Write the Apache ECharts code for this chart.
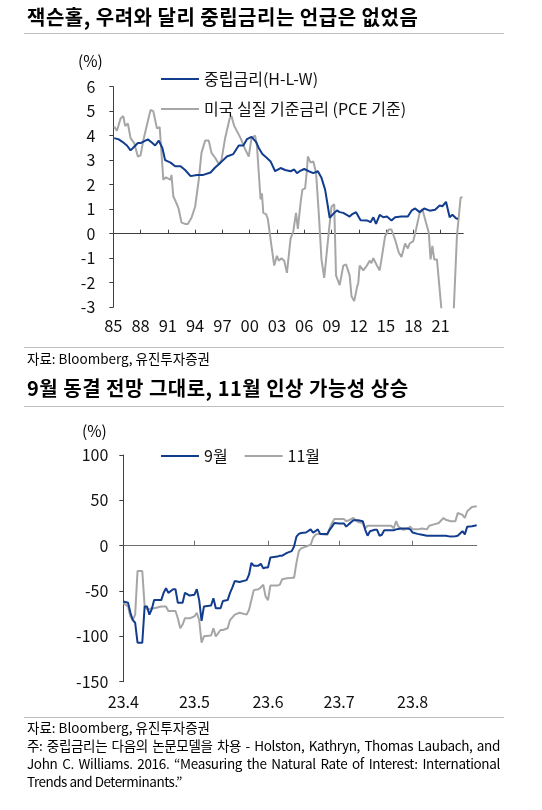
<!DOCTYPE html>
<html>
<head>
<meta charset="utf-8">
<script src="https://cdn.jsdelivr.net/npm/echarts@6/dist/echarts.min.js"></script>
<style>
  html, body { margin:0; padding:0; background:#fff; }
  body { width:542px; height:810px; position:relative; overflow:hidden; font-family:'Noto Sans CJK KR','Noto Sans',sans-serif; color:#000; }
  #c { position:absolute; left:0; top:0; width:542px; height:810px; }
  .t { position:absolute; white-space:nowrap; }
  .title { font-size:20px; font-weight:bold; line-height:24px; left:27px; letter-spacing:0.5px; }
  .rule { position:absolute; left:24px; width:480px; height:1px; background:#bfbfbf; }
  .src { font-size:13.5px; line-height:18px; left:27px; }
  .just { width:473px; text-align:justify; text-align-last:justify; letter-spacing:-0.35px; }
  .unit { font-size:15.5px; line-height:18px; }
</style>
</head>
<body>
<div id="c"></div>
<div class="t title" style="top:4.7px">잭슨홀, 우려와 달리 중립금리는 언급은 없었음</div>
<div class="rule" style="top:33px"></div>
<div class="t unit" style="left:78px;top:51px">(%)</div>
<div class="rule" style="top:346.5px"></div>
<div class="t src" style="top:348.5px">자료: Bloomberg, 유진투자증권</div>
<div class="t title" style="top:375.5px">9월 동결 전망 그대로, 11월 인상 가능성 상승</div>
<div class="rule" style="top:405.5px"></div>
<div class="t unit" style="left:82px;top:421px">(%)</div>
<div class="rule" style="top:716.5px"></div>
<div class="t src" style="top:718px">자료: Bloomberg, 유진투자증권</div>
<div class="t src just" style="top:736px">주: 중립금리는 다음의 논문모델을 차용 - Holston, Kathryn, Thomas Laubach, and</div>
<div class="t src just" style="top:754px">John C. Williams. 2016. “Measuring the Natural Rate of Interest: International</div>
<div class="t src" style="top:772px;letter-spacing:-0.5px">Trends and Determinants.”</div>
<script>
// ---- Chart 1: neutral rate (HLW) vs US real policy rate ----
const hlwName = '중립금리(H-L-W)';
const realName = '미국 실질 기준금리 (PCE 기준)';
const hlwX = [1985.1,1985.6,1986.0,1986.5,1986.9,1987.3,1987.7,1988.0,1988.8,1989.3,1989.6,1990.0,1990.4,1990.7,1991.3,1991.8,1992.4,1992.9,1993.5,1994.2,1994.9,1995.7,1996.2,1996.8,1997.5,1998.2,1998.8,1999.3,1999.7,2000.2,2000.7,2001.0,2001.4,2001.9,2002.3,2002.8,2003.4,2003.9,2004.5,2004.9,2005.2,2005.5,2006.0,2006.5,2007.0,2007.5,2007.9,2008.3,2008.6,2008.8,2009.3,2009.6,2009.9,2010.3,2011.0,2011.3,2011.7,2012.2,2012.9,2013.3,2013.6,2013.9,2014.3,2014.7,2015.1,2015.6,2016.0,2016.7,2017.4,2017.8,2018.2,2018.7,2019.2,2019.8,2020.4,2020.9,2021.2,2021.6,2022.0,2022.3,2022.7,2022.9];
const hlwY = [3.9,3.85,3.75,3.6,3.4,3.55,3.7,3.7,3.85,3.7,3.6,3.8,3.5,3.0,2.9,2.75,2.75,2.6,2.35,2.4,2.4,2.5,2.7,2.9,3.15,3.25,3.6,3.6,3.86,3.95,3.75,3.5,3.25,3.09,2.95,2.55,2.68,2.6,2.55,2.62,2.47,2.55,2.64,2.55,2.47,2.55,2.28,1.8,1.12,0.65,0.85,0.95,0.88,0.85,0.7,0.8,0.88,0.55,0.54,0.47,0.67,0.4,0.77,0.67,0.7,0.54,0.67,0.7,0.7,0.94,1.03,0.88,1.03,0.94,0.98,1.15,1.12,1.3,0.67,0.77,0.63,0.6];
const realX = [1985.1,1985.4,1985.8,1986.1,1986.3,1986.6,1986.9,1987.3,1987.7,1988.0,1988.3,1988.8,1989.1,1989.4,1989.8,1990.1,1990.3,1990.5,1990.8,1991.3,1991.4,1991.6,1992.0,1992.2,1992.5,1992.9,1993.2,1993.6,1994.0,1994.4,1994.7,1995.1,1995.5,1995.8,1996.2,1996.6,1996.9,1997.3,1997.8,1998.0,1998.3,1999.0,1999.5,1999.9,2000.2,2000.6,2000.8,2001.0,2001.2,2001.35,2001.5,2001.8,2002.0,2002.4,2002.7,2003.0,2003.2,2003.5,2003.8,2004.1,2004.5,2004.8,2005.1,2005.3,2005.6,2005.8,2006.1,2006.3,2006.4,2006.7,2007.0,2007.3,2007.6,2007.9,2008.2,2008.4,2008.7,2009.0,2009.3,2009.5,2009.9,2010.3,2010.6,2011.0,2011.2,2011.5,2011.8,2011.95,2012.1,2012.5,2012.9,2013.2,2013.4,2013.6,2014.0,2014.3,2014.5,2014.9,2015.3,2015.6,2016.0,2016.4,2016.7,2017.1,2017.4,2017.6,2018.0,2018.3,2018.7,2019.0,2019.4,2019.7,2019.9,2020.1,2020.3,2020.6,2021.1,2021.5,2022.0,2022.2,2022.45,2022.8,2023.2,2023.4];
const realY = [4.37,4.2,4.7,4.8,4.4,4.5,3.9,3.7,3.15,3.2,3.8,4.6,5.05,5.0,4.3,4.35,3.3,2.2,2.3,2.2,2.4,1.53,1.2,1.0,0.45,0.4,0.4,0.65,1.1,2.2,3.3,3.8,3.8,3.3,3.1,2.85,3.0,3.9,4.7,4.8,4.4,3.9,3.45,3.15,3.9,4.0,3.6,2.5,1.4,1.65,0.85,0.8,0.6,-0.5,-1.3,-0.9,-1.1,-1.0,-1.1,-1.6,-0.2,0.1,0.85,0.2,1.26,1.8,1.85,2.6,3.15,2.9,2.95,2.5,0.85,-1.05,-1.8,-1.75,0.05,1.1,1.2,-1.7,-2.1,-1.3,-1.25,-1.7,-2.55,-2.75,-2.2,-2.0,-1.3,-1.5,-1.3,-1.1,-1.2,-1.0,-1.3,-1.5,-1.05,-0.1,0.17,0.17,-0.25,-0.77,-0.95,-0.4,-0.6,-0.4,-0.3,0.17,0.85,1.0,0.45,0.05,-1.05,-0.5,-1.05,-1.05,-3.1,-4.5,-6.0,-6.5,-3.1,-0.1,1.46,1.5];
const topTicks = [1985,1988,1991,1994,1997,2000,2003,2006,2009,2012,2015,2018,2021];
const topTickLabels = ['85','88','91','94','97','00','03','06','09','12','15','18','21'];

// ---- Chart 2: rate hike probability for Sep / Nov FOMC ----
const sepName = '9월';
const novName = '11월';
const probDates = ['04-01','04-03','04-04','04-05','04-06','04-07','04-09','04-10','04-11','04-12','04-13','04-14','04-17','04-18','04-19','04-20','04-22','04-23','04-24','04-25','04-26','04-27','04-29','05-01','05-02','05-03','05-04','05-05','05-08','05-09','05-10','05-12','05-13','05-15','05-16','05-17','05-18','05-20','05-23','05-24','05-25','05-26','05-28','05-29','05-30','05-31','06-01','06-02','06-05','06-06','06-07','06-09','06-11','06-12','06-13','06-14','06-15','06-17','06-19','06-20','06-21','06-22','06-23','06-26','06-27','06-28','06-29','07-01','07-03','07-04','07-05','07-07','07-09','07-11','07-12','07-13','07-14','07-16','07-17','07-18','07-19','07-20','07-23','07-24','07-25','07-26','07-27','07-28','07-30','07-31','08-01','08-03','08-05','08-07','08-08','08-10','08-12','08-14','08-15','08-17','08-19','08-20','08-22','08-23','08-24','08-26','08-28'];
const sepProb = [-61.5,-63,-74,-82,-85,-107,-107,-67,-67,-76,-70,-60,-60,-52,-47,-52,-48,-48,-63,-63,-63,-52,-55,-54,-48,-60,-83,-67,-66,-58,-69,-69,-61,-60,-52,-46,-39,-40,-38,-32,-19,-22,-22,-20,-25,-24,-24,-13,-12,-11,-11,-8,-6,-1,10,13,14,14.5,18,14.5,16,18,13,13,17.5,21,25,24.5,24.5,21,23.5,28,28,27,17.5,11,16,17.5,17.5,11,12,17,17,17,18,18.5,19,19,19,18,14.5,13,12,11,11,11,11,11,11,10,10.5,11,16,12.5,21,21.5,22.5];
const novProb = [-63.5,-67,-78,-82,-76,-28,-28,-67,-70,-70,-69,-69,-67,-67,-67,-72,-72,-72,-80,-91,-87,-80,-80,-78,-74,-82,-107,-100,-99,-91,-100,-93,-93,-91,-82,-79,-76,-74,-76,-71,-60,-49,-48,-46,-43,-56,-60,-44,-44,-43,-37,-36,-35.5,-35.5,-19,-6,-3,-1,1,8.5,12,13,13,12,19,25,29.5,29.5,29.5,27,28,30.5,26,25,19,22,22,22,22,22,22,22,22,19,27,21,19,17.5,19,21,18,18,19,18,22,23.5,25,30.5,28.5,27,27,36,34,30.5,38,42.7,43.5];
const monthTickDates = ['2023-04-01','2023-05-01','2023-06-01','2023-07-01','2023-08-01'];
const monthTickLabels = ['23.4','23.5','23.6','23.7','23.8'];

function toTs(s) { const p = s.split('-').map(Number); return Date.UTC(p[0], p[1]-1, p[2]); }
const monthTs = monthTickDates.map(toTs);
const FONT = "'Noto Sans CJK KR','Noto Sans',sans-serif";
const BLUE = '#123c8e', GRAY = '#a6a6a6', AXIS = '#404040';

const legendText = { fontSize: 16, color: '#111', fontFamily: FONT };
const chart = echarts.init(document.getElementById('c'), null, { renderer: 'canvas' });
chart.setOption({
  animation: false,
  textStyle: { fontFamily: FONT, color: '#111' },
  grid: [
    { left: 113.3, top: 86.7, width: 350, height: 220.5 },
    { left: 123.3, top: 455, width: 353.4, height: 226.7 }
  ],
  legend: [
    { data: [hlwName, realName], orient: 'vertical', left: 156, top: 66, icon: 'rect', itemWidth: 38, itemHeight: 2.2, itemGap: 14,
      textStyle: legendText },
    { data: [sepName, novName], orient: 'horizontal', left: 156, top: 443, icon: 'rect', itemWidth: 38, itemHeight: 2.2, itemGap: 17,
      textStyle: legendText }
  ],
  xAxis: [
    { gridIndex: 0, type: 'value', min: 1985, max: 2023.5, interval: 3, position: 'bottom',
      axisLine: { show: false, onZero: false }, axisTick: { show: false }, splitLine: { show: false },
      axisLabel: { customValues: topTicks, fontSize: 16.5, color: '#111', margin: 10,
        formatter: v => { const i = topTicks.indexOf(v); return i >= 0 ? topTickLabels[i] : ''; } } },
    { gridIndex: 0, type: 'value', min: 1985, max: 2023.5, interval: 3,
      axisLine: { show: true, onZero: true, lineStyle: { color: AXIS, width: 1 } },
      axisTick: { show: true, customValues: topTicks, length: 4, lineStyle: { color: AXIS } },
      axisLabel: { show: false }, splitLine: { show: false } },
    { gridIndex: 1, type: 'value', min: toTs('2023-04-01'), max: toTs('2023-08-28'), position: 'bottom',
      axisLine: { show: false, onZero: false }, axisTick: { show: false }, splitLine: { show: false },
      axisLabel: { customValues: monthTs, fontSize: 16, color: '#111', margin: 12, hideOverlap: false,
        formatter: v => { const i = monthTs.indexOf(v); return i >= 0 ? monthTickLabels[i] : ''; } } },
    { gridIndex: 1, type: 'value', min: toTs('2023-04-01'), max: toTs('2023-08-28'),
      axisLine: { show: true, onZero: true, lineStyle: { color: '#6e6e6e', width: 1 } },
      axisTick: { show: true, customValues: monthTs.slice(1), length: 5, lineStyle: { color: '#6e6e6e' } },
      axisLabel: { show: false }, splitLine: { show: false } }
  ],
  yAxis: [
    { gridIndex: 0, type: 'value', min: -3, max: 6, interval: 1,
      axisLine: { show: true, lineStyle: { color: AXIS } }, axisTick: { show: true, length: 4, lineStyle: { color: AXIS } },
      splitLine: { show: false }, axisLabel: { fontSize: 16, color: '#111', margin: 18 } },
    { gridIndex: 1, type: 'value', min: -150, max: 100, interval: 50,
      axisLine: { show: true, lineStyle: { color: AXIS } }, axisTick: { show: true, length: 4, lineStyle: { color: AXIS } },
      splitLine: { show: false }, axisLabel: { fontSize: 16, color: '#111', margin: 15 } }
  ],
  series: [
    { name: realName, type: 'line', xAxisIndex: 0, yAxisIndex: 0, symbol: 'none', clip: true,
      lineStyle: { color: GRAY, width: 2 }, itemStyle: { color: GRAY },
      data: realX.map((x, i) => [x, realY[i]]), z: 2 },
    { name: hlwName, type: 'line', xAxisIndex: 0, yAxisIndex: 0, symbol: 'none', clip: true,
      lineStyle: { color: BLUE, width: 2 }, itemStyle: { color: BLUE },
      data: hlwX.map((x, i) => [x, hlwY[i]]), z: 3 },
    { name: novName, type: 'line', xAxisIndex: 2, yAxisIndex: 1, symbol: 'none',
      lineStyle: { color: GRAY, width: 2 }, itemStyle: { color: GRAY },
      data: probDates.map((d, i) => [toTs('2023-' + d), novProb[i]]), z: 2 },
    { name: sepName, type: 'line', xAxisIndex: 2, yAxisIndex: 1, symbol: 'none',
      lineStyle: { color: BLUE, width: 2 }, itemStyle: { color: BLUE },
      data: probDates.map((d, i) => [toTs('2023-' + d), sepProb[i]]), z: 3 }
  ]
});
</script>
</body>
</html>
